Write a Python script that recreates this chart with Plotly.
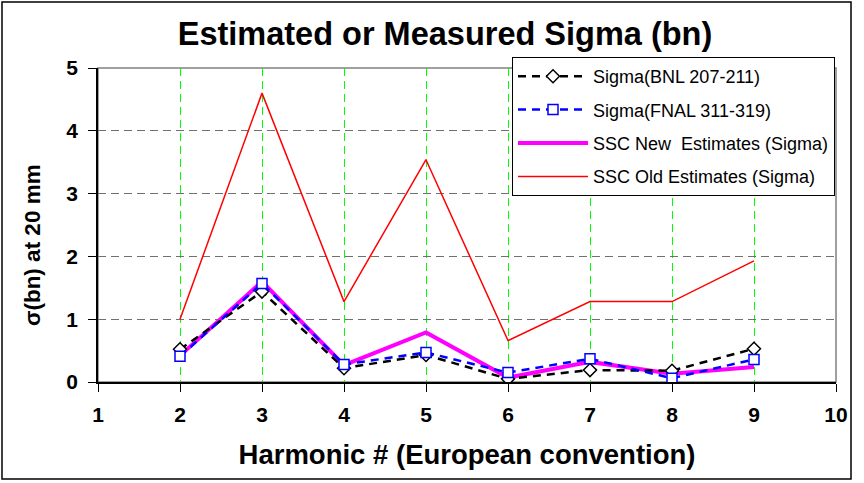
import plotly.graph_objects as go

harmonics = [2, 3, 4, 5, 6, 7, 8, 9]
bnl_sigma = [0.52, 1.44, 0.22, 0.43, 0.05, 0.19, 0.18, 0.53]
fnal_sigma = [0.41, 1.57, 0.28, 0.47, 0.15, 0.37, 0.06, 0.36]
ssc_new = [0.42, 1.60, 0.27, 0.79, 0.07, 0.32, 0.13, 0.24]
ssc_old = [1.00, 4.60, 1.28, 3.54, 0.66, 1.28, 1.28, 1.93]

x_ticks = [1, 2, 3, 4, 5, 6, 7, 8, 9, 10]
y_ticks = [0, 1, 2, 3, 4, 5]

W, H = 864, 483
L, R, T, B = 98, 28, 68, 101
PW, PH = W - L - R, H - T - B

def px_x(p):
    return (p - L) / PW

def px_y(p):
    return (H - B - p) / PH

FONT = "Arial, Liberation Sans, sans-serif"

fig = go.Figure()

fig.add_trace(go.Scatter(
    x=harmonics, y=ssc_old, mode="lines", name="SSC Old Estimates (Sigma)",
    line=dict(color="#ff0000", width=1.5), legendrank=4, legendgroup="d"))
fig.add_trace(go.Scatter(
    x=harmonics, y=ssc_new, mode="lines", name="SSC New  Estimates (Sigma)",
    line=dict(color="#ff00ff", width=4), legendrank=3, legendgroup="c"))
fig.add_trace(go.Scatter(
    x=harmonics, y=bnl_sigma, mode="lines+markers", name="Sigma(BNL 207-211)",
    line=dict(color="#000000", width=2.5, dash="8px,6px"),
    marker=dict(symbol="diamond", size=10, color="white",
                line=dict(color="black", width=1.5)),
    legendrank=1, legendgroup="a"))
fig.add_trace(go.Scatter(
    x=harmonics, y=fnal_sigma, mode="lines+markers", name="Sigma(FNAL 311-319)",
    line=dict(color="#0000ff", width=2.5, dash="8px,6px"),
    marker=dict(symbol="square", size=10, color="white",
                line=dict(color="#0000ff", width=1.5)),
    legendrank=2, legendgroup="b"))

fig.update_layout(
    width=W, height=H,
    margin=dict(l=L, r=R, t=T, b=B),
    paper_bgcolor="white", plot_bgcolor="white",
    font=dict(family=FONT, color="black"),
    showlegend=True,
    title=dict(text="<b>Estimated or Measured Sigma (bn)</b>",
               font=dict(size=32.5, family=FONT, color="black"),
               x=445 / W, xanchor="center", y=1 - 34 / H, yanchor="middle"),
    legend=dict(
        x=px_x(512), y=px_y(57), xanchor="left", yanchor="top",
        bgcolor="white", bordercolor="black", borderwidth=1,
        font=dict(size=18, family=FONT, color="black"),
        traceorder="grouped", tracegroupgap=7, itemwidth=70,
    ),
    xaxis=dict(
        range=[1, 10], tickvals=x_ticks, ticktext=[str(v) for v in x_ticks],
        showgrid=True, gridcolor="#00ff00", gridwidth=1, griddash="8px,5px",
        zeroline=False, showline=True, linecolor="black", linewidth=1.5,
        ticks="outside", ticklen=8, tickcolor="black", tickwidth=1,
        ticklabelstandoff=5,
        tickfont=dict(size=21, family=FONT, color="black", weight="bold"),
        title=dict(text="<b>Harmonic # (European convention)</b>",
                   font=dict(size=27.5, family=FONT, color="black"), standoff=20),
    ),
    yaxis=dict(
        range=[0, 5], tickvals=y_ticks, ticktext=[str(v) for v in y_ticks],
        showgrid=True, gridcolor="#707070", gridwidth=1, griddash="8px,5px",
        zeroline=False, showline=True, linecolor="black", linewidth=1.5,
        ticks="outside", ticklen=8, tickcolor="black", tickwidth=1,
        ticklabelstandoff=6,
        tickfont=dict(size=21, family=FONT, color="black", weight="bold"),
    ),
    annotations=[
        dict(text="<b>σ(bn) at 20 mm</b>", xref="paper", yref="paper",
             x=px_x(32), y=px_y(245), xanchor="center", yanchor="middle",
             textangle=-90, showarrow=False,
             font=dict(size=22.5, family=FONT, color="black")),
    ],
    shapes=[
        dict(type="rect", xref="paper", yref="paper", x0=0, x1=1, y0=0, y1=1,
             line=dict(color="#808080", width=1.5), layer="below"),
        dict(type="rect", xref="paper", yref="paper",
             x0=px_x(2), x1=px_x(851), y0=px_y(479), y1=px_y(2),
             line=dict(color="black", width=1.5), layer="below"),
    ],
)

fig.write_html("out.html", config={"displayModeBar": False},
               post_script="document.body.style.margin='0';")
